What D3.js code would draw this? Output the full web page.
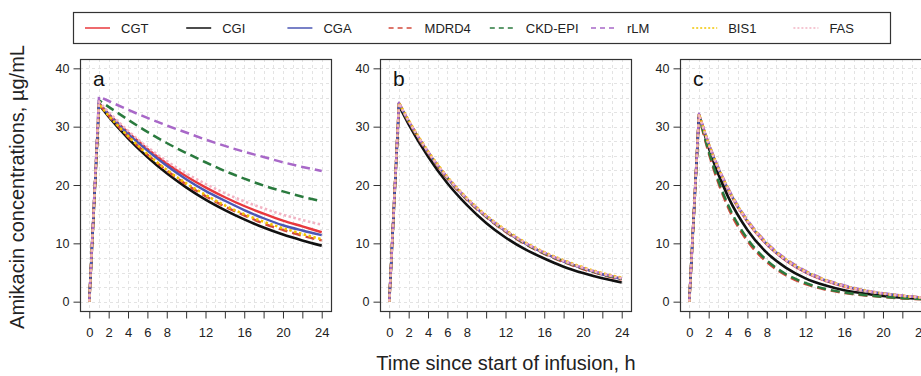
<!DOCTYPE html>
<html><head><meta charset="utf-8">
<script src="https://cdn.jsdelivr.net/npm/d3@7"></script>
<style>body{margin:0;background:#fff}svg{display:block}</style>
</head><body><svg id="c" width="921" height="376"></svg>
<script>
// ---- data ----
const seriesNames = ["CGT","CGI","CGA","MDRD4","CKD-EPI","rLM","BIS1","FAS"];
const timesH = [0,1,2,4,6,8,10,12,14,16,18,20,22,24];
const panelLabels = ["a","b","c"];
const xTickValues = [0,2,4,6,8,10,12,14,16,18,20,22,24];
const xTickLabels = ["0","2","4","6","8","","12","","16","","20","","24"];
const yTickValues = [0,10,20,30,40];
const concA = [
  [0,34.0,32.2,29.0,26.2,23.7,21.5,19.6,17.9,16.4,15.1,13.9,12.9,11.9],
  [0,33.8,31.7,28.0,24.8,22.0,19.6,17.5,15.7,14.1,12.7,11.5,10.5,9.6],
  [0,34.0,32.1,28.8,25.9,23.3,21.0,19.0,17.3,15.7,14.3,13.1,12.2,11.4],
  [0,33.9,31.9,28.3,25.2,22.5,20.1,18.1,16.3,14.8,13.4,12.3,11.3,10.5],
  [0,34.5,33.4,31.2,29.1,27.2,25.5,23.9,22.4,21.1,19.9,18.9,18.0,17.2],
  [0,35.2,34.4,32.9,31.5,30.2,29.0,27.8,26.7,25.7,24.8,23.9,23.1,22.4],
  [0,33.9,31.9,28.4,25.3,22.6,20.3,18.3,16.5,15.0,13.7,12.6,11.6,10.7],
  [0,34.3,32.5,29.3,26.5,24.1,22.0,20.2,18.6,17.2,16.0,14.9,14.0,13.2]
];
const concB = [
  [0,34.0,30.9,25.6,21.2,17.6,14.6,12.1,10.0,8.3,6.9,5.7,4.7,3.9],
  [0,33.6,30.4,24.9,20.3,16.6,13.5,11.0,9.0,7.4,6.0,4.9,4.0,3.3],
  [0,34.0,30.9,25.6,21.2,17.6,14.6,12.1,10.0,8.3,6.9,5.7,4.7,3.9],
  [0,33.9,30.8,25.5,21.1,17.5,14.5,12.0,9.9,8.2,6.8,5.6,4.6,3.8],
  [0,34.0,30.9,25.6,21.2,17.6,14.6,12.1,10.0,8.3,6.9,5.7,4.7,3.9],
  [0,34.1,31.0,25.7,21.3,17.7,14.7,12.2,10.1,8.4,7.0,5.8,4.8,4.0],
  [0,34.1,31.1,25.8,21.4,17.8,14.8,12.3,10.2,8.5,7.1,5.9,4.9,4.1],
  [0,34.0,31.0,25.7,21.3,17.7,14.7,12.2,10.1,8.4,7.0,5.8,4.8,4.0]
];
const concC = [
  [0,32.1,27.0,19.2,13.7,9.8,7.0,5.0,3.6,2.6,1.9,1.35,1.0,0.7],
  [0,32.0,26.4,18.0,12.3,8.4,5.8,4.0,2.8,1.95,1.4,1.0,0.7,0.5],
  [0,32.1,27.0,19.3,13.8,9.9,7.1,5.1,3.7,2.7,1.9,1.4,1.0,0.7],
  [0,31.8,25.5,16.2,10.4,6.8,4.5,3.0,2.1,1.5,1.1,0.8,0.55,0.4],
  [0,31.9,25.8,16.6,10.8,7.1,4.7,3.2,2.2,1.6,1.15,0.85,0.6,0.45],
  [0,32.2,27.2,19.5,14.0,10.1,7.3,5.3,3.8,2.8,2.0,1.45,1.05,0.75],
  [0,32.2,27.1,19.4,13.9,10.0,7.2,5.2,3.75,2.7,1.95,1.4,1.0,0.72],
  [0,32.1,27.0,19.3,13.8,9.9,7.1,5.1,3.7,2.65,1.9,1.38,1.0,0.7]
];
const panels = [concA, concB, concC];

// ---- styles ----
const colors = ["#e8383d","#111111","#4b57b5","#d24a3c","#2a7a3e","#a868c8","#f2c500","#f2b4c4"];
const dashes = [null,null,null,"9,5","9,5","9,5","2.5,2.5","2.5,2.5"];
const widths = [2.4,2.6,2.4,2.5,2.5,2.5,2.6,2.6];
const legDash = [null,null,null,"5,4","5,4","5,4","2,2","2,2"];

const svg = d3.select("#c");
const narrow = "'Liberation Sans Narrow','Arial Narrow',sans-serif";
const regular = "'Liberation Sans',Arial,sans-serif";

const pTop = 59, pBot = 311, pW = 251;
const panelX = [80, 380, 680];
const y = d3.scaleLinear().domain([-1.6, 41.6]).range([pBot, pTop]);

panels.forEach((data, pi) => {
  const x0 = panelX[pi];
  const x = d3.scaleLinear().domain([-0.96, 24.96]).range([x0, x0 + pW]);
  const g = svg.append("g");
  // grid
  const grid = g.append("g").attr("stroke","#e3e3e3").attr("stroke-width",1).attr("stroke-dasharray","3,3");
  d3.range(0, 25, 1).forEach(t => grid.append("line").attr("x1", Math.round(x(t))+0.5).attr("x2", Math.round(x(t))+0.5).attr("y1", pTop).attr("y2", pBot));
  d3.range(0, 41, 2.5).forEach(v => grid.append("line").attr("y1", Math.round(y(v))+0.5).attr("y2", Math.round(y(v))+0.5).attr("x1", x0).attr("x2", x0+pW));
  // lines
  data.forEach((vals, si) => {
    const pts = timesH.map((t,i)=>[t, vals[i]]);
    const rise = d3.line().x(d=>x(d[0])).y(d=>y(d[1]))(pts.slice(0,2));
    const decay = d3.line().x(d=>x(d[0])).y(d=>y(d[1])).curve(d3.curveMonotoneX)(pts.slice(1));
    g.append("path").attr("d", rise + decay.replace(/^M[^C L]*/, ""))
      .attr("fill","none").attr("stroke", colors[si]).attr("stroke-width", widths[si])
      .attr("stroke-dasharray", dashes[si]).attr("stroke-linejoin","round");
  });
  // border
  g.append("rect").attr("x", x0+0.5).attr("y", pTop+0.5).attr("width", pW).attr("height", pBot-pTop)
    .attr("fill","none").attr("stroke","#333").attr("stroke-width",1.2);
  // axes
  const xa = d3.axisBottom(x).tickValues(xTickValues).tickSize(7).tickPadding(9)
    .tickFormat((d,i)=>xTickLabels[i]);
  const gx = g.append("g").attr("transform",`translate(0,${pBot+0.5})`).call(xa);
  gx.select(".domain").attr("d", `M${x(0)},0H${x(24)}`).attr("stroke","#333");
  gx.selectAll("line").attr("stroke","#333");
  gx.selectAll("text").attr("font-family", narrow).attr("font-size", 13).attr("fill","#222");
  const ya = d3.axisLeft(y).tickValues(yTickValues).tickSize(7).tickPadding(4);
  const gy = g.append("g").attr("transform",`translate(${x0+0.5},0)`).call(ya);
  gy.select(".domain").attr("d", `M0,${y(0)}V${y(40)}`).attr("stroke","#333");
  gy.selectAll("line").attr("stroke","#333");
  gy.selectAll("text").attr("font-family", regular).attr("font-size", 12.5).attr("fill","#222");
  // panel letter
  g.append("text").attr("x", x0+13).attr("y", pTop+27).text(panelLabels[pi])
    .attr("font-family", regular).attr("font-size", 21).attr("fill","#111");
});

// titles
svg.append("text").attr("x", 506).attr("y", 370).attr("text-anchor","middle")
  .attr("font-family", narrow).attr("font-size", 20).attr("fill","#222")
  .text("Time since start of infusion, h");
svg.append("text").attr("transform","translate(24,187) rotate(-90)").attr("text-anchor","middle")
  .attr("font-family", regular).attr("font-size", 20).attr("fill","#222")
  .text("Amikacin concentrations, µg/mL");

// legend
const leg = svg.append("g");
leg.append("rect").attr("x",73.5).attr("y",12.5).attr("width",817).attr("height",31)
  .attr("fill","#fff").attr("stroke","#333").attr("stroke-width",1.2);
seriesNames.forEach((nm, i) => {
  const lx = 85 + i*101.2;
  leg.append("line").attr("x1", lx).attr("x2", lx+25).attr("y1", 28).attr("y2", 28)
    .attr("stroke", colors[i]).attr("stroke-width", 1.5).attr("stroke-dasharray", legDash[i]);
  leg.append("text").attr("x", lx+36).attr("y", 32.5).text(nm)
    .attr("font-family", regular).attr("font-size", 13).attr("fill","#222");
});
</script></body></html>
